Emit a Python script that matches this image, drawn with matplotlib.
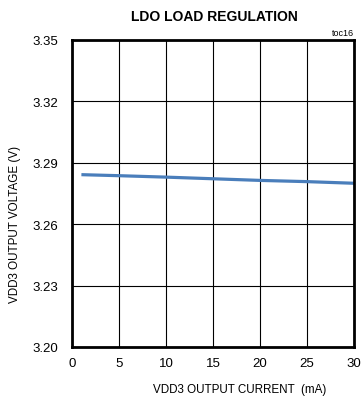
import matplotlib
matplotlib.use("Agg")
import matplotlib.pyplot as plt

current_ma = [1, 5, 10, 15, 20, 25, 30]
voltage_v = [3.2842, 3.2837, 3.2830, 3.2822, 3.2814, 3.2808, 3.2800]
xticks = [0, 5, 10, 15, 20, 25, 30]
yticks = [3.20, 3.23, 3.26, 3.29, 3.32, 3.35]

plt.rcParams['font.family'] = ['Liberation Sans', 'DejaVu Sans']

W, H = 361, 402
fig = plt.figure(figsize=(W/100, H/100), dpi=100)
ax = fig.add_axes([72/W, 1-348/H, (354-72)/W, (348-41)/H])
ax.plot(current_ma, voltage_v, color='#4a7ebb', lw=2.3, solid_capstyle='butt')
ax.set_xlim(0, 30)
ax.set_ylim(3.20, 3.35)
ax.set_xticks(xticks)
ax.set_yticks(yticks)
ax.set_xticklabels([str(t) for t in xticks])
ax.set_yticklabels([f"{t:.2f}" for t in yticks])
ax.grid(True, color='black', lw=0.8)
ax.tick_params(length=0, labelsize=9.5)
ax.tick_params(axis='y', pad=10)
ax.tick_params(axis='x', pad=7)
for s in ax.spines.values():
    s.set_linewidth(2)

renderer = fig.canvas.get_renderer()

def fit(t, target):
    bb = t.get_window_extent(renderer)
    t.set_fontsize(t.get_fontsize() * target / bb.width)

t1 = fig.text(214/W, 1-17/H, 'LDO LOAD REGULATION', ha='center', va='center', fontsize=11, fontweight='bold')
fit(t1, 166)
t2 = fig.text(354/W, 1-33/H, 'toc16', ha='right', va='center', fontsize=6.5)
t3 = fig.text(240/W, 1-390/H, 'VDD3 OUTPUT CURRENT  (mA)', ha='center', va='center', fontsize=10)
fit(t3, 173)
t4 = fig.text(15/W, 1-225/H, 'VDD3 OUTPUT VOLTAGE (V)', ha='center', va='center', rotation=90,
              fontsize=t3.get_fontsize())
fig.savefig('out.png', dpi=100)
